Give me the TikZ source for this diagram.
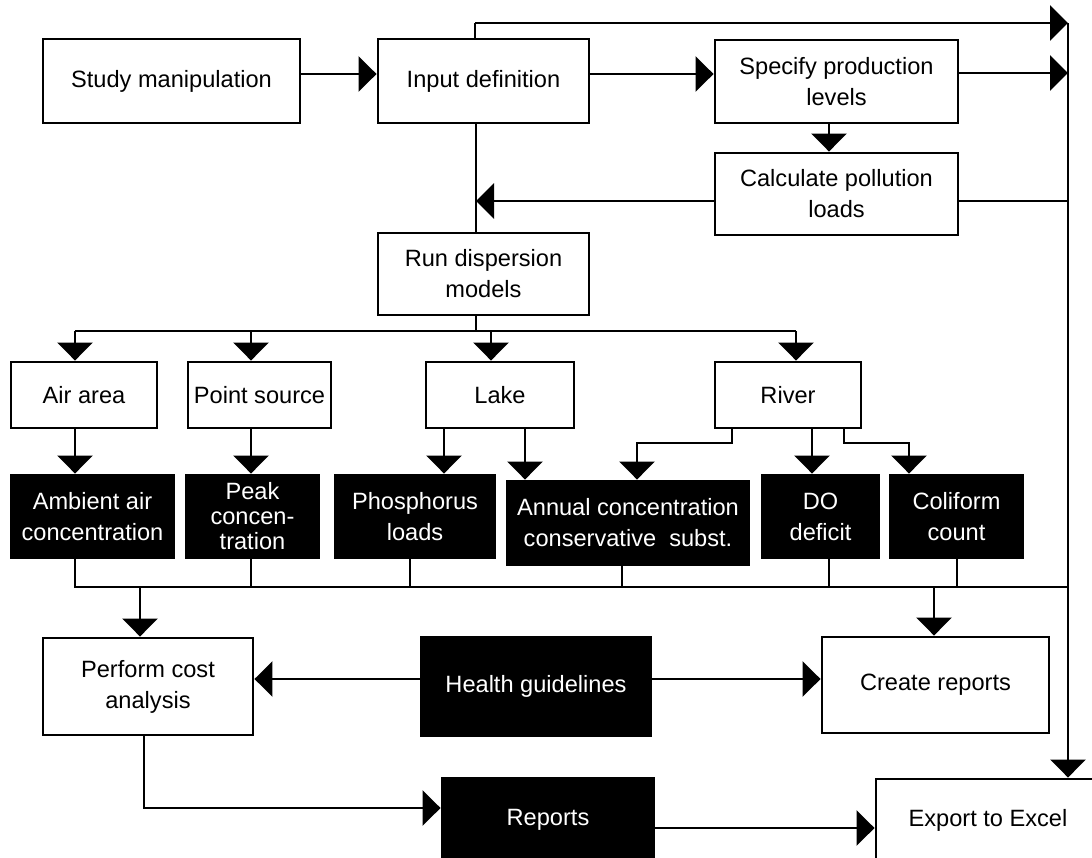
\documentclass[tikz,border=0pt]{standalone}
\usepackage{fontspec}
\setmainfont{Liberation Sans}
\usetikzlibrary{arrows.meta}
\begin{document}
\begin{tikzpicture}[x=1pt,y=-1pt,
  ln/.style={line width=2.9pt},
  arr/.style={ln,-{Triangle[width=35pt,length=18pt]}},
  wbox/.style={draw,ln,fill=white,align=center,inner sep=0pt,font=\fontsize{23.6pt}{31pt}\selectfont},
  bbox/.style={wbox,fill=black,text=white},
]
\useasboundingbox (0,0) rectangle (1092,857);
\clip (0,0) rectangle (1092,857);

% nodes
\node[wbox,minimum width=257pt,minimum height=84pt] (study) at (171.5,81) {Study manipulation};
\node[wbox,minimum width=211pt,minimum height=84pt] (input) at (483.5,81) {Input definition};
\node[wbox,minimum width=243pt,minimum height=83pt] (spec) at (836.5,81.5) {Specify production\\levels};
\node[wbox,minimum width=243pt,minimum height=82pt] (calc) at (836.5,194) {Calculate pollution\\loads};
\node[wbox,minimum width=211pt,minimum height=82pt] (run) at (483.5,274) {Run dispersion\\models};
\node[wbox,minimum width=146pt,minimum height=66pt] (air) at (84,395) {Air area};
\node[wbox,minimum width=143pt,minimum height=66pt] (point) at (259.5,395) {Point source};
\node[wbox,minimum width=148pt,minimum height=66pt] (lake) at (500,395) {Lake};
\node[wbox,minimum width=146pt,minimum height=66pt] (river) at (788,395) {River};
\node[bbox,minimum width=163pt,minimum height=83pt] (amb) at (92.5,516.5) {Ambient air\\concentration};
\node[bbox,minimum width=133pt,minimum height=83pt,font=\fontsize{23.6pt}{25pt}\selectfont] (peak) at (252.5,516.5) {Peak\\concen-\\tration};
\node[bbox,minimum width=160pt,minimum height=83pt] (phos) at (415,516.5) {Phosphorus\\loads};
\node[bbox,minimum width=242pt,minimum height=84pt] (ann) at (628,523) {Annual concentration\\conservative\ \ subst.};
\node[bbox,minimum width=117pt,minimum height=83pt] (do) at (820.5,516.5) {DO\\deficit};
\node[bbox,minimum width=133pt,minimum height=83pt] (coli) at (956.5,516.5) {Coliform\\count};
\node[wbox,minimum width=210pt,minimum height=97pt] (cost) at (148,686.5) {Perform cost\\analysis};
\node[bbox,minimum width=230pt,minimum height=99pt] (health) at (536,686.5) {Health guidelines};
\node[wbox,minimum width=227pt,minimum height=96pt] (create) at (935.5,685) {Create reports};
\node[bbox,minimum width=212pt,minimum height=83pt] (rep) at (548,819.5) {Reports};
\node[wbox,minimum width=224pt,minimum height=83pt] (excel) at (988,820.5) {Export to Excel};

% junction coordinates
\coordinate (vt) at (1068,23);
\coordinate (tl) at (475,23);
\coordinate (j1) at (476,201);
\coordinate (b1) at (476,331);
\coordinate (b1l) at (75,331);
\coordinate (b1p) at (251,331);
\coordinate (b1k) at (491,331);
\coordinate (b1r) at (796,331);
\coordinate (b2l) at (75,587);
\coordinate (b2r) at (1068,587);
\coordinate (r1) at (732,443);
\coordinate (r2) at (637,443);
\coordinate (r3) at (844,443);
\coordinate (r4) at (909,443);
\coordinate (p1) at (144,808);
\coordinate (c1) at (140,587);
\coordinate (c2) at (934,587);

% top part
\draw[arr] (study.east |- 0,74) -- (input.west |- 0,74);
\draw[arr] (input.east |- 0,74) -- (spec.west |- 0,74);
\draw[ln] (input.north -| tl) -- (tl);
\draw[arr] (tl) -- (vt);
\draw[arr] (spec.east |- 0,73) -- (vt |- 0,73);
\draw[ln] (calc.east |- 0,201) -- (vt |- 0,201);
\draw[arr] (spec.south -| 829,0) -- (calc.north -| 829,0);
\draw[arr] (calc.west |- j1) -- (j1);
\draw[ln] (input.south -| j1) -- (run.north -| j1);
\draw[arr] (vt) -- (excel.north -| vt);

% upper bus
\draw[ln] (run.south -| b1) -- (b1);
\draw[ln] (b1l) -- (b1r);
\draw[arr] (b1l) -- (air.north -| b1l);
\draw[arr] (b1p) -- (point.north -| b1p);
\draw[arr] (b1k) -- (lake.north -| b1k);
\draw[arr] (b1r) -- (river.north -| b1r);

% second level
\draw[arr] (air.south -| b1l) -- (amb.north -| b1l);
\draw[arr] (point.south -| b1p) -- (peak.north -| b1p);
\draw[arr] (lake.south -| 444,0) -- (phos.north -| 444,0);
\draw[arr] (lake.south -| 525,0) -- (ann.north -| 525,0);
\draw[arr] (river.south -| r1) -- (r1) -- (r2) -- (ann.north -| r2);
\draw[arr] (river.south -| 812,0) -- (do.north -| 812,0);
\draw[arr] (river.south -| r3) -- (r3) -- (r4) -- (coli.north -| r4);

% lower bus
\draw[ln] (amb.south -| b2l) -- (b2l) -- (b2r);
\draw[ln] (peak.south -| b1p) -- (b1p |- b2l);
\draw[ln] (phos.south -| 410,0) -- (410,587);
\draw[ln] (ann.south -| 622,0) -- (622,587);
\draw[ln] (do.south -| 829,0) -- (829,587);
\draw[ln] (coli.south -| 957,0) -- (957,587);
\draw[arr] (c1) -- (cost.north -| c1);
\draw[arr] (c2) -- (create.north -| c2);

% bottom
\draw[arr] (health.west |- 0,679) -- (cost.east |- 0,679);
\draw[arr] (health.east |- 0,679) -- (create.west |- 0,679);
\draw[arr] (cost.south -| p1) -- (p1) -- (rep.west |- p1);
\draw[arr] (rep.east |- 0,828) -- (excel.west |- 0,828);
\end{tikzpicture}
\end{document}
